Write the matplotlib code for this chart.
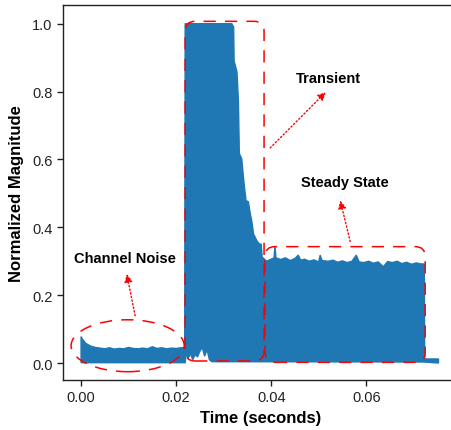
import numpy as np
import matplotlib
matplotlib.use("Agg")
import matplotlib.pyplot as plt
from matplotlib.patches import Ellipse, FancyBboxPatch

plt.rcParams['font.family'] = ['Liberation Sans', 'DejaVu Sans']

# upper envelope of the recorded magnitude (time in s, normalized magnitude)
t_upper = [0.0000, 0.0003, 0.0010, 0.0020, 0.0030, 0.0040, 0.0050, 0.0060, 0.0070,
           0.0080, 0.0090, 0.0100, 0.0110, 0.0120, 0.0130, 0.0140, 0.0150, 0.0160,
           0.0170, 0.0180, 0.0190, 0.0200, 0.0210, 0.0218,
           0.0219, 0.0317, 0.0321, 0.0322, 0.0328, 0.0331, 0.0333, 0.0338, 0.0343,
           0.0347, 0.0352, 0.0356, 0.0359, 0.0363, 0.0370, 0.0375, 0.0379, 0.0381,
           0.0385, 0.0390, 0.0400, 0.0406, 0.0408, 0.0410, 0.0420, 0.0430, 0.0440,
           0.0450, 0.0457, 0.0462, 0.0470, 0.0480, 0.0490, 0.0500, 0.0503, 0.0507,
           0.0520, 0.0530, 0.0540, 0.0550, 0.0560, 0.0570, 0.0579, 0.0585, 0.0595,
           0.0605, 0.0615, 0.0625, 0.0636, 0.0645, 0.0655, 0.0665, 0.0675, 0.0685,
           0.0695, 0.0705, 0.0715, 0.0722,
           0.0723, 0.0752]
mag_upper = [0.078, 0.070, 0.058, 0.050, 0.046, 0.044, 0.042, 0.045, 0.041,
             0.043, 0.042, 0.046, 0.043, 0.042, 0.044, 0.042, 0.048, 0.043,
             0.045, 0.042, 0.044, 0.043, 0.045, 0.046,
             1.000, 1.000, 0.990, 0.890, 0.858, 0.774, 0.617, 0.602, 0.528,
             0.479, 0.475, 0.440, 0.420, 0.380, 0.360, 0.351, 0.350, 0.312,
             0.307, 0.300, 0.306, 0.310, 0.345, 0.310, 0.305, 0.310, 0.302,
             0.308, 0.318, 0.303, 0.306, 0.300, 0.304, 0.298, 0.318, 0.302,
             0.300, 0.303, 0.297, 0.301, 0.296, 0.300, 0.318, 0.298, 0.296,
             0.300, 0.294, 0.298, 0.284, 0.299, 0.296, 0.300, 0.293, 0.297,
             0.291, 0.295, 0.292, 0.292,
             0.012, 0.012]

# lower envelope
t_lower = [0.0000, 0.0219, 0.0221, 0.0225, 0.0230, 0.0235, 0.0240, 0.0245, 0.0250,
           0.0255, 0.0260, 0.0265, 0.0270, 0.0275, 0.0722, 0.0752]
mag_lower = [0.001, 0.001, 0.030, 0.012, 0.028, 0.010, 0.025, 0.018, 0.035,
             0.046, 0.020, 0.040, 0.010, 0.004, 0.003, 0.000]

x_ticks = [0.00, 0.02, 0.04, 0.06]
y_ticks = [0.0, 0.2, 0.4, 0.6, 0.8, 1.0]

blue = '#1f77b4'
red = '#ff0000'
dash = (0, (8, 6))

fig = plt.figure(figsize=(4.51, 4.31), dpi=100)
ax = fig.add_axes([0.1397, 0.116, 0.8758, 0.870])

xs = np.r_[t_upper, t_lower[::-1]]
ys = np.r_[mag_upper, mag_lower[::-1]]
ax.fill(xs, ys, facecolor=blue, edgecolor=blue, lw=1.0, zorder=2)

ax.set_xlim(-0.0038, 0.0793)
ax.set_ylim(-0.05, 1.055)
ax.set_xticks(x_ticks)
ax.set_yticks(y_ticks)
ax.set_xticklabels(['%.2f' % v for v in x_ticks])
ax.set_yticklabels(['%.1f' % v for v in y_ticks])
ax.tick_params(direction='out', length=4, width=1, labelsize=10.5,
               labelcolor='#222222', color='#222222')
for s in ax.spines.values():
    s.set_color('#222222')
    s.set_linewidth(1.0)

ax.set_xlabel('Time (seconds)', fontsize=12, fontweight='bold', labelpad=4)
ax.set_ylabel('Normalized Magnitude', fontsize=12, fontweight='bold', labelpad=6)

# annotation regions
asp = (1.0 / 339) / 0.0002105
ax.add_patch(Ellipse((0.0098, 0.051), 0.0238, 0.153, fill=False, ec=red,
                     lw=1.1, linestyle=dash, zorder=3))
ax.add_patch(FancyBboxPatch((0.0219, 0.006), 0.0385 - 0.0219, 1.007 - 0.006,
                            boxstyle='round,pad=0,rounding_size=0.0021',
                            mutation_aspect=asp, fill=False, ec=red, lw=1.1,
                            linestyle=dash, zorder=3))
ax.add_patch(FancyBboxPatch((0.0387, 0.002), 0.0724 - 0.0387, 0.343 - 0.002,
                            boxstyle='round,pad=0,rounding_size=0.0021',
                            mutation_aspect=asp, fill=False, ec=red, lw=1.1,
                            linestyle=dash, zorder=3))

labels = [('Channel Noise', (0.00926, 0.309), (0.00962, 0.2625), (0.01137, 0.1395)),
          ('Transient', (0.05206, 0.840), (0.0515, 0.7985), (0.03979, 0.634)),
          ('Steady State', (0.05543, 0.533), (0.05452, 0.479), (0.05663, 0.358))]
for txt, pos, head, tail in labels:
    ax.text(pos[0], pos[1], txt, ha='center', va='center', fontsize=10.5,
            fontweight='bold', color='black', zorder=4)
    ax.annotate('', xy=head, xytext=tail,
                arrowprops=dict(arrowstyle='-|>', color=red, lw=1.0,
                                linestyle=':', mutation_scale=12,
                                shrinkA=0, shrinkB=0), zorder=4)

fig.savefig('out.png', dpi=100)
